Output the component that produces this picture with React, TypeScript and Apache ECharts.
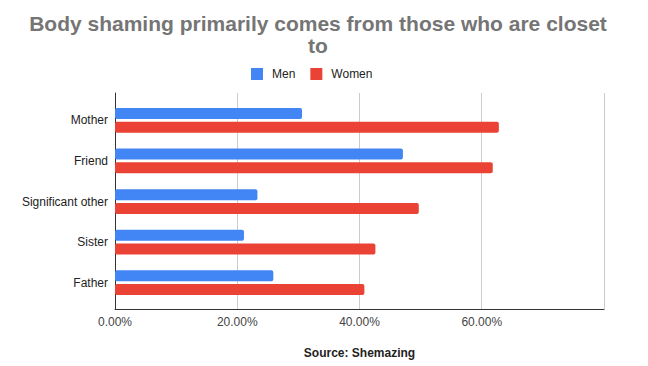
import React, { useEffect, useRef } from "react";
import * as echarts from "echarts";

const categories = ["Mother", "Friend", "Significant other", "Sister", "Father"];
const menValues = [0.306, 0.471, 0.233, 0.211, 0.259];
const womenValues = [0.628, 0.618, 0.497, 0.426, 0.408];
const xTicks = [0, 0.2, 0.4, 0.6, 0.8];
const titleText = "Body shaming primarily comes from those who are closet\nto";
const sourceText = "Source: Shemazing";

const FONT = "'Liberation Sans', Arial, sans-serif";

export default function App() {
  const ref = useRef<HTMLDivElement>(null);
  useEffect(() => {
    document.body.style.margin = "0";
    if (!ref.current) return;
    const chart = echarts.init(ref.current, undefined, { renderer: "svg" });
    const xMin = xTicks[0];
    const xMax = xTicks[xTicks.length - 1];
    const interval = xTicks[1] - xTicks[0];
    chart.setOption({
      animation: false,
      backgroundColor: "#ffffff",
      textStyle: { fontFamily: FONT },
      title: {
        text: titleText,
        left: 313,
        textAlign: "center",
        top: 7,
        textStyle: {
          fontFamily: FONT,
          fontSize: 21,
          fontWeight: "bold",
          color: "#757575",
          lineHeight: 22,
        },
      },
      legend: {
        left: 246,
        top: 63,
        itemWidth: 12,
        itemHeight: 12,
        itemGap: 15,
        icon: "rect",
        textStyle: {
          fontFamily: FONT,
          fontSize: 12,
          color: "#222222",
          padding: [0, 0, 0, 4],
        },
        data: ["Men", "Women"],
      },
      grid: [
        { left: 115, right: 44, top: 93, height: 216 },
        { left: 115, right: 44, top: 100, height: 203 },
      ],
      xAxis: [
        {
          gridIndex: 0,
          type: "value",
          min: xMin,
          max: xMax,
          interval,
          axisLine: { show: true, lineStyle: { color: "#333333" } },
          axisTick: { show: false },
          splitLine: { show: true, lineStyle: { color: "#cccccc" } },
          axisLabel: {
            showMaxLabel: false,
            color: "#444444",
            fontSize: 12,
            fontFamily: FONT,
            margin: 7,
            formatter: (v: number) => (v * 100).toFixed(2) + "%",
          },
          name: sourceText,
          nameLocation: "middle",
          nameGap: 38,
          nameTextStyle: {
            fontFamily: FONT,
            fontSize: 12,
            fontWeight: "bold",
            color: "#222222",
          },
        },
        {
          gridIndex: 1,
          type: "value",
          min: xMin,
          max: xMax,
          interval,
          show: false,
        },
      ],
      yAxis: [
        {
          gridIndex: 0,
          type: "category",
          data: categories,
          inverse: true,
          axisLine: { show: true, onZero: false, lineStyle: { color: "#333333" } },
          axisTick: { show: false },
          axisLabel: { show: false },
          splitLine: { show: false },
        },
        {
          gridIndex: 1,
          type: "category",
          data: categories,
          inverse: true,
          axisLine: { show: false },
          axisTick: { show: false },
          axisLabel: {
            color: "#222222",
            fontSize: 12,
            fontFamily: FONT,
            margin: 7,
          },
        },
      ],
      series: [
        {
          name: "Men",
          type: "bar",
          xAxisIndex: 1,
          yAxisIndex: 1,
          data: menValues,
          barWidth: 11,
          barGap: "25%",
          itemStyle: { color: "#4285F4", borderRadius: 2 },
        },
        {
          name: "Women",
          type: "bar",
          xAxisIndex: 1,
          yAxisIndex: 1,
          data: womenValues,
          barWidth: 11,
          barGap: "25%",
          itemStyle: { color: "#EA4335", borderRadius: 2 },
        },
      ],
    });
    return () => chart.dispose();
  }, []);
  return <div ref={ref} style={{ width: 648, height: 366 }} />;
}
